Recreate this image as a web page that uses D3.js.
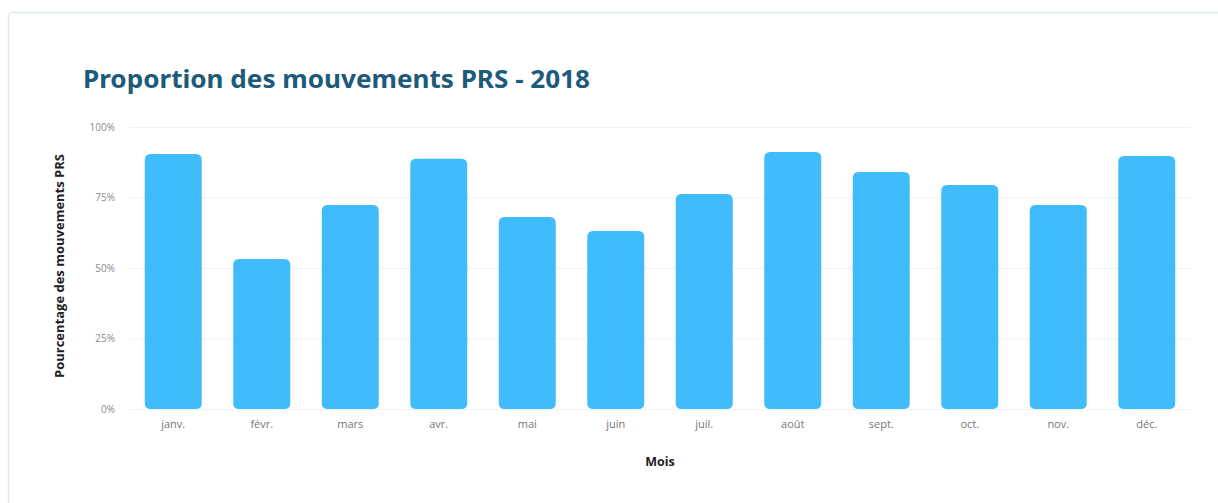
<!DOCTYPE html>
<html>
<head>
<meta charset="utf-8">
<script src="https://cdn.jsdelivr.net/npm/d3@7"></script>
<style>
  html, body { margin: 0; padding: 0; background: #fff; }
  svg { display: block; font-family: "Open Sans", "Noto Sans", sans-serif; }
</style>
</head>
<body>
<svg id="chart" width="1218" height="503"></svg>
<script>
const months = ["janv.", "févr.", "mars", "avr.", "mai", "juin", "juil.", "août", "sept.", "oct.", "nov.", "déc."];
const values = [0.904, 0.532, 0.723, 0.887, 0.681, 0.631, 0.762, 0.911, 0.840, 0.794, 0.723, 0.897];
const yTicks = [0, 0.25, 0.5, 0.75, 1];
const title = "Proportion des mouvements PRS - 2018";
const yTitle = "Pourcentage des mouvements PRS";
const xTitle = "Mois";

(function () {
const svg = d3.select("#chart");

// card
svg.append("rect")
  .attr("x", 8.5).attr("y", 12.5)
  .attr("width", 1230).attr("height", 520)
  .attr("rx", 4)
  .attr("fill", "#fff")
  .attr("stroke", "#dcecf3")
  .attr("stroke-width", 1.5);

const pLeft = 129, pRight = 1191, pTop = 127, pBottom = 409;

const x = d3.scaleBand().domain(months).range([pLeft, pRight]).paddingInner(0.356).paddingOuter(0.178);
const y = d3.scaleLinear().domain([0, 1]).range([pBottom, pTop]);

// title
svg.append("text")
  .attr("x", 83).attr("y", 88)
  .attr("fill", "#1d5a7b")
  .attr("font-size", 25.5)
  .attr("font-weight", 700)
  .attr("font-family", "'Noto Sans', sans-serif")
  .attr("textLength", 507)
  .attr("lengthAdjust", "spacingAndGlyphs")
  .text(title);

// grid
const yAxis = d3.axisLeft(y).tickValues(yTicks).tickFormat(d3.format(".0%")).tickSize(-(pRight - pLeft)).tickPadding(14);
const gy = svg.append("g").attr("transform", `translate(${pLeft},0)`).call(yAxis);
gy.select(".domain").remove();
gy.selectAll(".tick line").attr("stroke", "#eef3f7").attr("stroke-width", 1);
gy.selectAll(".tick text").attr("fill", "#8a8a8a").attr("font-size", 10).attr("font-family", "'Open Sans', sans-serif");

// bars
const r = 6;
function barPath(x0, y0, w, h) {
  const rr = Math.min(r, h / 2, w / 2);
  return `M${x0},${y0 + rr}` +
    `Q${x0},${y0} ${x0 + rr},${y0}` +
    `H${x0 + w - rr}` +
    `Q${x0 + w},${y0} ${x0 + w},${y0 + rr}` +
    `V${y0 + h - rr}` +
    `Q${x0 + w},${y0 + h} ${x0 + w - rr},${y0 + h}` +
    `H${x0 + rr}` +
    `Q${x0},${y0 + h} ${x0},${y0 + h - rr}Z`;
}
svg.append("g").selectAll("path")
  .data(months.map((m, i) => ({ m, v: values[i] })))
  .join("path")
  .attr("fill", "#40bbfb")
  .attr("d", d => barPath(x(d.m), y(d.v), x.bandwidth(), y(0) - y(d.v)));

// x axis
const xAxis = d3.axisBottom(x).tickSize(0).tickPadding(11);
const gx = svg.append("g").attr("transform", `translate(0,${pBottom})`).call(xAxis);
gx.select(".domain").remove();
gx.selectAll(".tick text").attr("fill", "#777").attr("font-size", 11).attr("font-family", "'Open Sans', sans-serif");

// axis titles
svg.append("text")
  .attr("transform", `translate(64,${(pTop + pBottom) / 2 - 2}) rotate(-90)`)
  .attr("text-anchor", "middle")
  .attr("font-size", 12.5)
  .attr("font-weight", 700)
  .attr("fill", "#222")
  .attr("font-family", "'Open Sans', sans-serif")
  .attr("textLength", 224)
  .attr("lengthAdjust", "spacingAndGlyphs")
  .text(yTitle);

svg.append("text")
  .attr("x", (pLeft + pRight) / 2).attr("y", 466)
  .attr("text-anchor", "middle")
  .attr("font-size", 12.5)
  .attr("font-weight", 700)
  .attr("fill", "#222")
  .attr("font-family", "'Open Sans', sans-serif")
  .text(xTitle);
})();
</script>
</body>
</html>
